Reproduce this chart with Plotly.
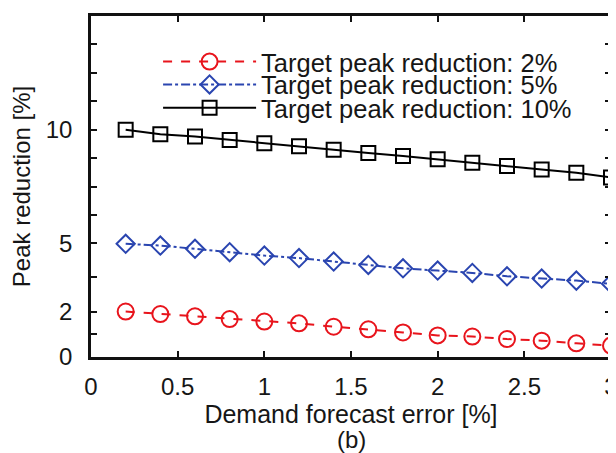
import plotly.graph_objects as go

x_err = [0.2, 0.4, 0.6, 0.8, 1.0, 1.2, 1.4, 1.6, 1.8, 2.0, 2.2, 2.4, 2.6, 2.8, 3.0]
peak_2 = [2.0, 1.89, 1.79, 1.67, 1.56, 1.48, 1.33, 1.22, 1.08, 0.95, 0.9, 0.79, 0.72, 0.6, 0.5]
peak_5 = [4.98, 4.9, 4.76, 4.61, 4.46, 4.35, 4.2, 4.05, 3.9, 3.8, 3.7, 3.55, 3.45, 3.36, 3.22]
peak_10 = [10.0, 9.8, 9.7, 9.55, 9.4, 9.27, 9.12, 8.97, 8.84, 8.7, 8.55, 8.4, 8.25, 8.1, 7.9]

names = ["Target peak reduction: 2%", "Target peak reduction: 5%", "Target peak reduction: 10%"]

x_ticks = [0, 0.5, 1, 1.5, 2, 2.5, 3]
x_ticklabels = ["0", "0.5", "1", "1.5", "2", "2.5", "3"]
y_ticks = [0, 1, 2, 3.5, 5, 6.25, 7.5, 8.75, 10, 11.25, 12.5, 13.75, 15]
y_ticklabels = ["0", "", "2", "", "5", "", "", "", "10", "", "", "", ""]

FONT = "Liberation Sans, Arial, Helvetica, sans-serif"
TXT = "#161616"

fig = go.Figure()
fig.add_trace(go.Scatter(
    x=x_err, y=peak_2, name=names[0], mode="lines+markers", legend="legend",
    line=dict(color="#e8141c", width=2, dash="dash"),
    marker=dict(symbol="circle-open", size=16, color="#e8141c", line=dict(width=2)),
))
fig.add_trace(go.Scatter(
    x=x_err, y=peak_5, name=names[1], mode="lines+markers", legend="legend2",
    line=dict(color="#2a45b0", width=2, dash="dashdot"),
    marker=dict(symbol="diamond-open", size=14, color="#2a45b0", line=dict(width=2)),
))
fig.add_trace(go.Scatter(
    x=x_err, y=peak_10, name=names[2], mode="lines+markers", legend="legend3",
    line=dict(color="black", width=2),
    marker=dict(symbol="square-open", size=14, color="black", line=dict(width=2)),
))

leg_common = dict(
    x=0.129, xanchor="left", yanchor="middle",
    bgcolor="rgba(0,0,0,0)", borderwidth=0,
    font=dict(family=FONT, size=25.5, color=TXT),
    itemwidth=93,
)

# page body has an 8px default margin; margins below compensate for it
fig.update_layout(
    width=616, height=453,
    margin=dict(l=83, r=13, t=8, b=104),
    paper_bgcolor="white", plot_bgcolor="white",
    font=dict(family=FONT, size=24, color=TXT),
    showlegend=True,
    legend=dict(y=0.865, **leg_common),
    legend2=dict(y=0.798, **leg_common),
    legend3=dict(y=0.730, **leg_common),
    annotations=[dict(
        text="(b)", xref="paper", yref="paper", x=0.5, y=-0.241,
        xanchor="center", yanchor="middle", showarrow=False,
        font=dict(family=FONT, size=24, color=TXT),
    )],
)
fig.update_xaxes(
    range=[0, 3], tickvals=x_ticks, ticktext=x_ticklabels,
    showline=True, linecolor="#111", linewidth=2.5, mirror="ticks",
    ticks="inside", ticklen=6, tickwidth=2, tickcolor="#111",
    showgrid=False, zeroline=False, automargin=False,
    title=dict(text="Demand forecast error [%]", font=dict(size=25), standoff=0),
    tickfont=dict(size=24), ticklabelstandoff=6,
)
fig.update_yaxes(
    range=[0, 15], tickvals=y_ticks, ticktext=y_ticklabels,
    showline=True, linecolor="#111", linewidth=2.5, mirror="ticks",
    ticks="inside", ticklen=6, tickwidth=2, tickcolor="#111",
    showgrid=False, zeroline=False, automargin=False,
    title=dict(text="Peak reduction [%]", font=dict(size=24), standoff=12),
    tickfont=dict(size=24), ticklabelstandoff=11,
)

fig.write_html("out.html")
